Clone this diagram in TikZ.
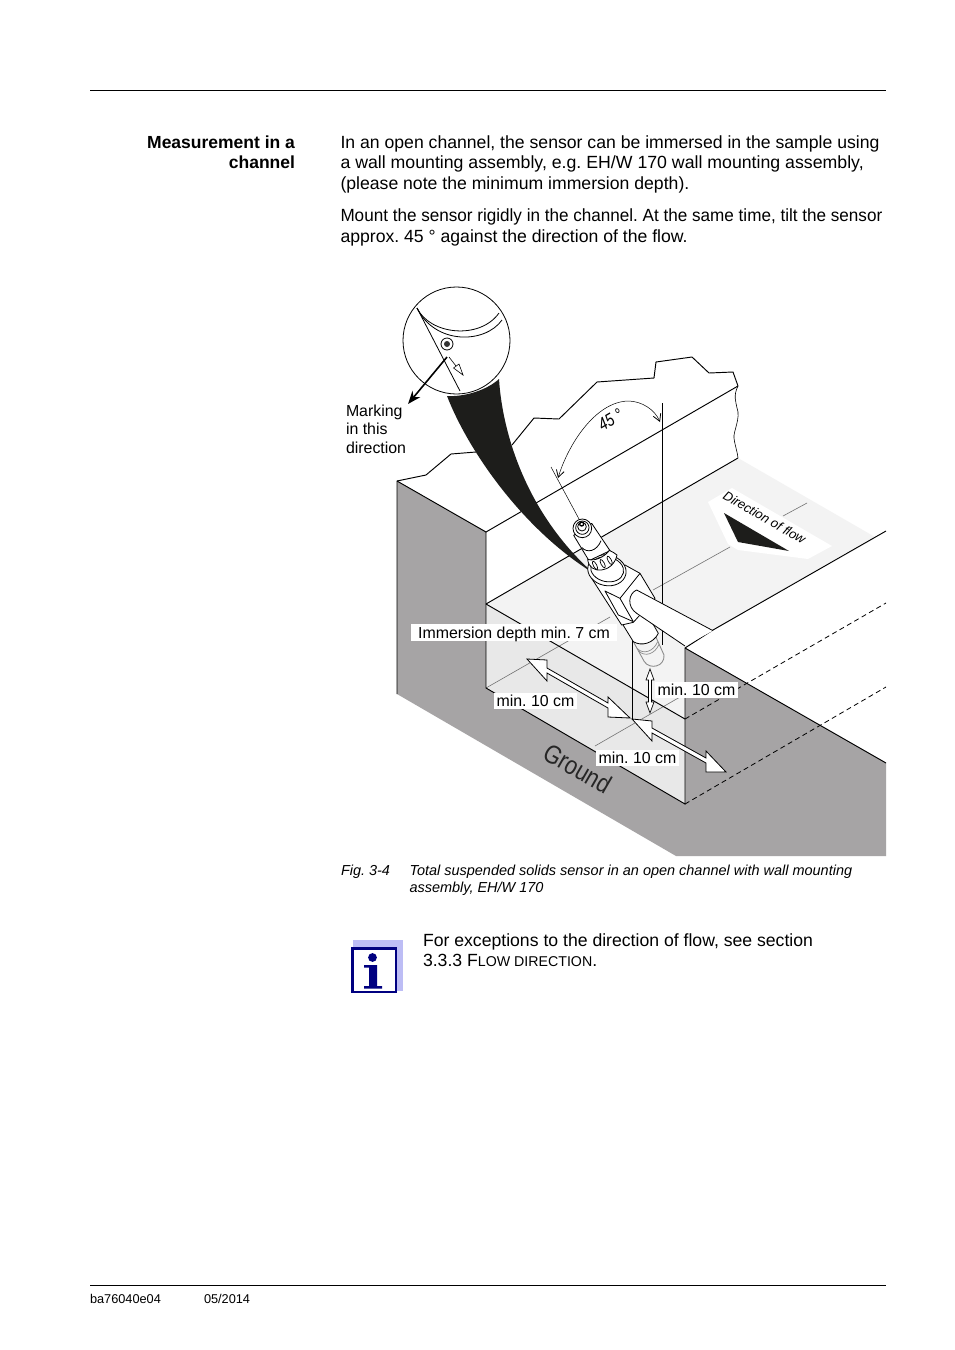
\documentclass[tikz,border=0pt]{standalone}
\usepackage{fontspec}
\setmainfont{Liberation Sans}
\usetikzlibrary{arrows.meta}
\definecolor{wallgrey}{HTML}{A6A4A5}
\definecolor{floorlight}{HTML}{F3F3F3}
\definecolor{floormid}{HTML}{E8E8E8}
\definecolor{coneblack}{HTML}{1D1D1B}
\definecolor{iconblue}{HTML}{000080}
\definecolor{iconlight}{HTML}{BDBDF5}
\newcommand{\fb}{\fontsize{17.63}{20}\selectfont}
\newcommand{\fl}{\fontsize{15.9}{18}\selectfont}
\newcommand{\fc}{\fontsize{14.47}{17}\selectfont\itshape}
\newcommand{\ff}{\fontsize{12.75}{15}\selectfont}
\tikzset{
  txt/.style={inner sep=0pt,outer sep=0pt,anchor=base west},
  txtr/.style={inner sep=0pt,outer sep=0pt,anchor=base east,font=\fontsize{17.5}{20}\selectfont\bfseries},
  lab/.style={fill=white,inner sep=0pt,outer sep=0pt,anchor=center,font=\fl,text depth=0pt},
  edge/.style={line width=0.95pt,black},
  thin grey/.style={line width=0.6pt,black!55},
  hollow/.style={fill=white,draw=black,line width=0.8pt,line join=miter},
  part/.style={line width=0.8pt,black,line join=round},
}
\frenchspacing
\begin{document}
\begin{tikzpicture}[x=1pt,y=-1pt]
\useasboundingbox (0,0) rectangle (954,1350);
\fill[white] (0,0) rectangle (954,1350);
% page rules
\draw[line width=0.9pt] (90,90.5) -- (886,90.5);
\draw[line width=0.9pt] (90,1285.5) -- (886,1285.5);
% text
\node[txtr] (h1) at (295,148) {Measurement in a};
\node[txtr] (h2) at (295,168) {channel};
\node[txt,font=\fb] (b1) at (340.5,148) {In an open channel, the sensor can be immersed in the sample using};
\node[txt,font=\fb] (b2) at (340.5,168) {\scalebox{1.005}[1]{a wall mounting assembly, e.g. EH/W 170 wall mounting assembly,}};
\node[txt,font=\fb] (b3) at (340.5,189) {(please note the minimum immersion depth).};
\node[txt,font=\fb] (b4) at (340.5,221) {\scalebox{0.97}[1]{Mount the sensor rigidly in the channel. At the same time, tilt the sensor}};
\node[txt,font=\fb] (b5) at (340.5,242) {approx. 45 ° against the direction of the flow.};
% grey block faces
\fill[wallgrey] (397,481) -- (486,532) -- (486,688) -- (685,804) -- (685,648) -- (886,763) -- (886,856) -- (676,856) -- (397,694) -- cycle;
% channel back and floor
\fill[floorlight] (486,604) -- (738,458) -- (875,537) -- (713,630) -- (685,648) -- (685,719) -- cycle;
\fill[floormid] (486,604) -- (685,719) -- (685,804) -- (486,688) -- cycle;
% flow label
\fill[white] (708,502) -- (732,488) -- (832,546) -- (808,559) -- (738,550) -- (728,544) -- cycle;
\fill[coneblack] (724,513) -- (789,551) -- (738,542) -- cycle;
\node[inner sep=0pt,rotate=-30,font=\fontsize{13}{15}\selectfont\itshape] (flow) at (764.5,517.5) {Direction of flow};
% grey flow centre lines
\draw[thin grey] (486,688) -- (610,617);
\draw[thin grey] (653,590) -- (730,547);
\draw[thin grey] (783,516) -- (807,503);
\draw[thin grey] (595,746) -- (680,697);
% outlines
\draw[edge,line join=round] (397,694) -- (397,481) -- (426,475) -- (451,454) -- (476,452);
\draw[edge,line join=round] (512,445) -- (534,418) -- (559,419) -- (597,382) -- (654,378) -- (656,362) -- (692,357) -- (709,373) -- (733,372) -- (738,386);
\draw[edge] (397,481) -- (486,532) -- (738,386);
\draw[edge] (486,532) -- (486,688) -- (685,804) -- (685,648) -- (713,630) -- (886,531);
\draw[edge] (486,604) -- (738,458);
\draw[edge] (486,604) -- (685,719);
\draw[edge] (685,648) -- (886,763);
\draw[line width=0.6pt] (738,386) .. controls (733,396) and (736,402) .. (737,408) .. controls (741,418) and (733,432) .. (734,438) .. controls (735,446) and (737,450) .. (738,458);
\draw[edge,dash pattern=on 5pt off 3.5pt,line width=0.8pt] (685,719) -- (886,603);
\draw[edge,dash pattern=on 5pt off 3.5pt,line width=0.8pt] (685,804) -- (886,687);
% verticals
\draw[edge] (662,403) -- (662,645);
\draw[edge] (632,640) -- (632,719);
% 45 degree arc
\draw[line width=0.5pt] (551,467) -- (579,519);
\draw[line width=0.5pt,{Straight Barb[length=7pt,width=8pt,line width=.8pt]}-{Straight Barb[length=7pt,width=8pt,line width=.8pt]}] (558,478) .. controls (568,445) and (595,402) .. (628,401) .. controls (642,401) and (655,410) .. (660,422);
\node[inner sep=0pt,rotate=30,font=\fontsize{18}{20}\selectfont\itshape] (deg) at (610.5,420) {\scalebox{0.78}[1]{45 °}};
% cone
\fill[white] (456.5,340.5) circle (55.5);
\fill[coneblack] (447,396) .. controls (465,397) and (487,390) .. (499,379) .. controls (503,440) and (530,515) .. (590,570) -- (587,569) .. controls (520,525) and (468,450) .. (447,396) -- cycle;
% magnifier circle
\node[circle,draw=black,fill=white,line width=0.8pt,minimum size=107pt,inner sep=0pt] (lens) at (456.5,340.5) {};
\begin{scope}[line width=0.8pt]
\draw (417,308) .. controls (430,335) and (480,340) .. (499,313);
\draw (417,308) .. controls (435,345) and (485,344) .. (502,320);
\draw (417,308) -- (460,391);
\draw (447,344) circle (6);
\fill[black!80] (447,344) circle (3);
\draw[line width=0.6pt] (449,357) -- (463,375);
\draw[hollow,line width=0.6pt] (463,375) -- (453.5,368) -- (459,364) -- cycle;
\end{scope}
\coordinate (markstart) at (447,357);
\coordinate (marktip) at (408,404);
\draw[line width=1.6pt,-{Stealth[length=13pt,width=10pt]}] (markstart) -- (marktip);
\node[txt,font=\fl] (m1) at (346,416) {Marking};
\node[txt,font=\fl] (m2) at (346,434) {in this};
\node[txt,font=\fl] (m3) at (346,453) {direction};
% sensor (coordinates read at 3x from a crop at 565,510)
\begin{scope}[shift={(565,510)},x=0.33333pt,y=-0.33333pt]
 % grey lower tip
 \filldraw[fill=floorlight,draw=black!45,line width=0.9pt] (205,395) -- (238,455) .. controls (255,480) and (300,470) .. (297,435) -- (270,375);
 \draw[black!45,line width=0.7pt] (216,415) .. controls (235,435) and (265,425) .. (278,395);
 \draw[black!45,line width=0.7pt] (221,423) .. controls (240,442) and (270,432) .. (282,403);
 % lower tube
 \filldraw[part,fill=white] (165,330) -- (205,395) .. controls (230,410) and (265,400) .. (280,370) -- (240,300) -- cycle;
 % block
 \filldraw[part,fill=white] (80,205) -- (170,345) -- (205,337) -- (270,265) -- (225,190) -- (180,165) -- cycle;
 \draw[part] (120,243) -- (165,265) -- (205,335) -- (160,315) -- cycle;
 \draw[part] (165,265) -- (225,190);
 % flange rings
 \begin{scope}[shift={(127,175)},rotate=-12]
  \filldraw[part,fill=white] (0,6) ellipse (58 and 46);
  \draw[part] (0,3) ellipse (50 and 37);
 \end{scope}
 % upper tube
 \filldraw[part,fill=white] (26,76) -- (72,152) -- (135,122) -- (80,40) -- cycle;
 \draw[part] (50,112) .. controls (65,130) and (95,125) .. (108,92);
 % knurled collar
 \filldraw[part,fill=white] (68,148) .. controls (72,196) and (145,190) .. (156,135) .. controls (150,130) and (142,125) .. (133,121) .. controls (120,140) and (90,155) .. (68,148) -- cycle;
 \foreach \a/\b in {90/166,113/161,134/151}{
  \draw[part,line width=0.7pt,rotate around={28:(\a,\b)}] (\a,\b) ellipse (5 and 14);
 }
 % cap rings
 \filldraw[part,fill=white] (52,55) circle (28);
 \draw[part] (52,53) circle (20);
 \draw[part] (51,50) circle (13);
 \draw[part,line width=1.3pt] (50,42) circle (6);
 % pipe
 \fill[white] (444,362) -- (215,240) .. controls (190,250) and (185,290) .. (215,310) -- (360,408) -- cycle;
 \draw[part] (444,362) -- (215,240) .. controls (190,250) and (185,290) .. (215,310) -- (360,408);
\end{scope}
% hollow double arrows
\path (527,659) coordinate (a1) (630,718) coordinate (a2) (632,719) coordinate (b1) (726,772) coordinate (b2);
\filldraw[hollow] (a1) -- (547,660) -- (547,668) -- (608,703) -- (608,697) -- (a2) -- (608,717) -- (608,708) -- (547,673) -- (547,681) -- cycle;
\filldraw[hollow] (b1) -- (652,721) -- (652,728) -- (706,758) -- (706,751) -- (b2) -- (706,772) -- (706,763) -- (652,733) -- (652,741) -- cycle;
\filldraw[hollow,line width=0.7pt] (650,669) -- (654,680) -- (651.5,680) -- (651.5,702) -- (654,702) -- (650,713) -- (646,702) -- (648.5,702) -- (648.5,680) -- (646,680) -- cycle;
% labels
\node[lab,minimum width=206pt,minimum height=17pt] (l1) at (514,632.5) {Immersion depth min. 7 cm};
\node[lab,minimum width=83pt,minimum height=16pt] (l2) at (535.5,701) {min. 10 cm};
\node[lab,minimum width=83pt,minimum height=16pt] (l3) at (696.5,690) {min. 10 cm};
\node[lab,minimum width=83pt,minimum height=16pt] (l4) at (637.5,758) {min. 10 cm};
\node[inner sep=0pt,rotate=-30,text=black!85,font=\fontsize{26}{30}\selectfont] (ground) at (578,768.5) {\scalebox{0.85}[1]{Ground}};
% caption
\node[txt,font=\fc] (c0) at (341,875) {Fig. 3-4};
\node[txt,font=\fc] (c1) at (409.5,875) {Total suspended solids sensor in an open channel with wall mounting};
\node[txt,font=\fc] (c2) at (409.5,892) {assembly, EH/W 170};
% note
\fill[iconlight] (353,940) rectangle (403,991);
\draw[iconblue,fill=white,line width=2.6pt] (352.3,948.3) rectangle (396,992);
\fill[iconblue] (372.5,957.5) circle (4.4);
\fill[iconblue] (364,965) -- (377,965) -- (377,986) -- (382,986) -- (382,988.5) -- (364,988.5) -- (364,986) -- (369,986) -- (369,967.5) -- (364,967.5) -- cycle;
\node[txt,font=\fb] (n1) at (423,946) {For exceptions to the direction of flow, see section};
\node[txt,font=\fb] (n2) at (423,966) {3.3.3 F{\fontsize{14.2}{16}\selectfont LOW DIRECTION}.};
% footer
\node[txt,font=\ff] (f1) at (90,1303) {ba76040e04};
\node[txt,font=\ff] (f2) at (204,1303) {05/2014};
\end{tikzpicture}
\end{document}
